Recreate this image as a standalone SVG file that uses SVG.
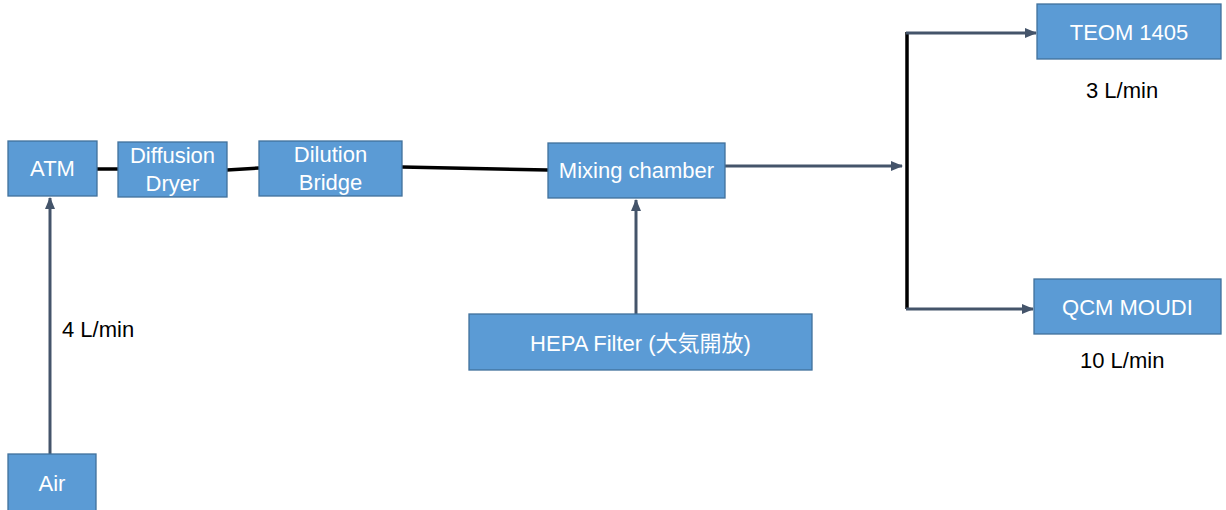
<svg xmlns="http://www.w3.org/2000/svg" width="1226" height="510" viewBox="0 0 1226 510">
<style>
.box{fill:#5B9BD5;stroke:#41719C;stroke-width:1.3}
.t{font-family:"Liberation Sans","Noto Sans CJK JP",sans-serif;font-size:22px;fill:#FFFFFF;text-anchor:middle}
.lbl{font-family:"Liberation Sans",sans-serif;font-size:22px;fill:#000000}
.blk{stroke:#000000;stroke-width:3.5;fill:none}
.arr{stroke:#44546A;stroke-width:3;fill:none;marker-end:url(#ah)}
</style>
<defs>
<marker id="ah" markerWidth="12" markerHeight="10" refX="11" refY="5" orient="auto" markerUnits="userSpaceOnUse">
<path d="M0,0 L12,5 L0,10 Z" fill="#44546A"/>
</marker>
</defs>
<rect width="1226" height="510" fill="#FFFFFF"/>
<g id="connectors">
<line class="blk" x1="97" y1="169" x2="118" y2="169"/>
<line class="blk" x1="227" y1="170" x2="259" y2="168"/>
<line class="blk" x1="402" y1="167" x2="548" y2="170"/>
<line class="arr" x1="725" y1="166" x2="902" y2="166"/>
<line class="blk" x1="907" y1="32" x2="907" y2="309"/>
<line class="arr" x1="906" y1="33" x2="1036" y2="33"/>
<line class="arr" x1="906" y1="309" x2="1033" y2="309"/>
<line class="arr" x1="50" y1="454" x2="50" y2="198"/>
<line class="arr" x1="636" y1="314" x2="636" y2="200"/>
</g>
<g id="atm"><rect class="box" x="8" y="141" width="89" height="55"/><text class="t" x="52.5" y="176">ATM</text></g>
<g id="dryer"><rect class="box" x="118" y="142" width="109" height="55"/><text class="t" x="172.5" y="163">Diffusion</text><text class="t" x="172.5" y="191">Dryer</text></g>
<g id="bridge"><rect class="box" x="259" y="141" width="143" height="55"/><text class="t" x="330.5" y="162">Dilution</text><text class="t" x="330.5" y="190">Bridge</text></g>
<g id="mixing"><rect class="box" x="548" y="143" width="177" height="55"/><text class="t" x="636.5" y="178">Mixing chamber</text></g>
<g id="teom"><rect class="box" x="1037" y="4" width="184" height="55"/><text class="t" x="1129" y="40">TEOM 1405</text></g>
<g id="qcm"><rect class="box" x="1034" y="279" width="187" height="55"/><text class="t" x="1127.5" y="315">QCM MOUDI</text></g>
<g id="hepa"><rect class="box" x="469" y="314" width="343" height="56"/><text class="t" x="640.5" y="351">HEPA Filter (大気開放)</text></g>
<g id="air"><rect class="box" x="8" y="454" width="88" height="60"/><text class="t" x="52" y="491">Air</text></g>
<g id="labels">
<text class="lbl" x="1086" y="98">3 L/min</text>
<text class="lbl" x="1080" y="368">10 L/min</text>
<text class="lbl" x="62" y="337">4 L/min</text>
</g>
</svg>
